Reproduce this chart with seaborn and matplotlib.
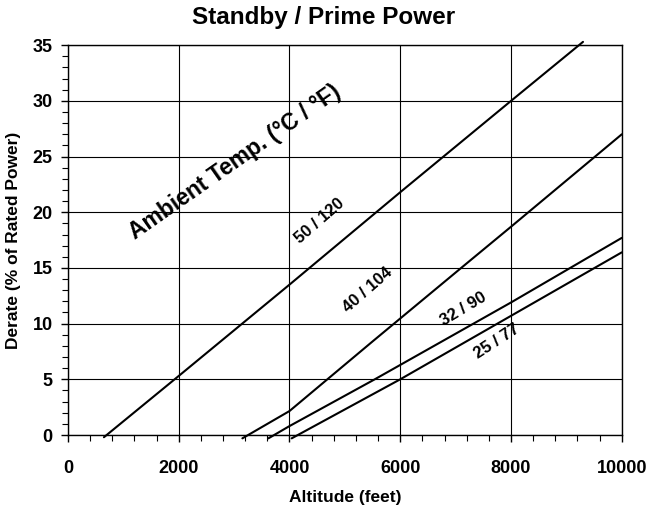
import seaborn as sns
import matplotlib.pyplot as plt
import pandas as pd
from matplotlib.ticker import MultipleLocator

# Derate curves (altitude in feet, derate in %)
alt_50 = [650, 2000, 4000, 6000, 8000, 9300]
derate_50 = [-0.2, 5.3, 13.5, 21.8, 30.0, 35.3]

alt_40 = [3150, 4000, 5500, 7100, 8000, 10000]
derate_40 = [-0.3, 2.15, 8.4, 15.0, 18.7, 27.0]

alt_32 = [3620, 4000, 5540, 8000, 10000]
derate_32 = [-0.3, 0.8, 5.0, 11.9, 17.7]

alt_25 = [4040, 6000, 8000, 10000]
derate_25 = [-0.3, 5.0, 10.7, 16.4]

curve_names = ["50 / 120", "40 / 104", "32 / 90", "25 / 77"]

frames = []
for name, a, d in zip(curve_names, [alt_50, alt_40, alt_32, alt_25],
                      [derate_50, derate_40, derate_32, derate_25]):
    frames.append(pd.DataFrame({"altitude": a, "derate": d, "temp": name}))
df = pd.concat(frames, ignore_index=True)

sns.set_style("ticks")
plt.rcParams['font.family'] = ['Liberation Sans', 'DejaVu Sans']
plt.rcParams['font.weight'] = 'bold'
plt.rcParams['text.color'] = 'black'
plt.rcParams['axes.labelcolor'] = 'black'
plt.rcParams['xtick.color'] = 'black'
plt.rcParams['ytick.color'] = 'black'

fig = plt.figure(figsize=(6.47, 5.08), dpi=100)
ax = fig.add_axes([0.105, 0.1437, 0.856, 0.7673])

sns.lineplot(data=df, x="altitude", y="derate", hue="temp", sort=False,
             palette=["black"] * 4, legend=False, linewidth=1.5, ax=ax,
             clip_on=False)

ax.set_xlim(0, 10000)
ax.set_ylim(0, 35)
ax.xaxis.set_major_locator(MultipleLocator(2000))
ax.xaxis.set_minor_locator(MultipleLocator(400))
ax.yaxis.set_major_locator(MultipleLocator(5))
ax.yaxis.set_minor_locator(MultipleLocator(1))
ax.grid(True, which='major', color='black', linewidth=0.8)
for s in ax.spines.values():
    s.set_visible(True)
    s.set_color('black')
    s.set_linewidth(1.0)
ax.tick_params(which='major', direction='out', length=5, width=1, colors='black',
               labelsize=13, pad=6)
ax.tick_params(axis='x', which='major', pad=13)
ax.tick_params(which='minor', direction='out', length=4, width=0.8, colors='black')
for lbl in ax.get_xticklabels() + ax.get_yticklabels():
    lbl.set_fontweight('bold')

ax.set_xlabel("Altitude (feet)", fontsize=12.5, fontweight='bold', labelpad=9)
ax.set_ylabel("Derate (% of Rated Power)", fontsize=12.5, fontweight='bold', labelpad=8)
fig.suptitle("Standby / Prime Power", x=0.5, y=0.966, va='center',
             fontsize=17.5, fontweight='bold')

ax.text(3015, 24.5, "Ambient Temp. (°C / °F)", rotation=35, fontsize=16.5,
        fontweight='bold', ha='center', va='center', rotation_mode='anchor')
ax.text(4550, 19.2, "50 / 120", rotation=41, fontsize=12, fontweight='bold',
        ha='center', va='center', rotation_mode='anchor')
ax.text(5420, 13.0, "40 / 104", rotation=41, fontsize=12, fontweight='bold',
        ha='center', va='center', rotation_mode='anchor')
ax.text(7150, 11.3, "32 / 90", rotation=31, fontsize=12, fontweight='bold',
        ha='center', va='center', rotation_mode='anchor')
ax.text(7750, 8.4, "25 / 77", rotation=33, fontsize=12, fontweight='bold',
        ha='center', va='center', rotation_mode='anchor')

plt.savefig("out.png", dpi=100)
